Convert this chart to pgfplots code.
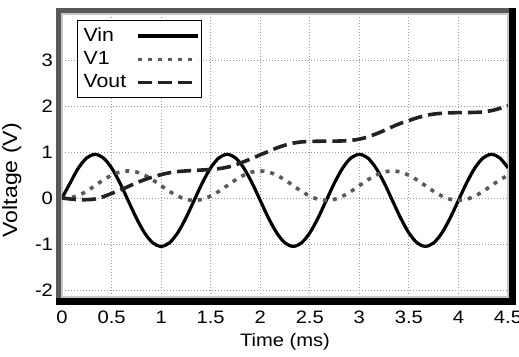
\documentclass[border=0pt]{standalone}
\usepackage{fontspec}
\setmainfont{Liberation Sans}[FakeStretch=1.12]
\usepackage{pgfplots}
\usepackage{pgfplotstable}
\pgfplotsset{compat=1.18}
\definecolor{vonecol}{HTML}{5A5A5A}
\definecolor{voutcol}{HTML}{222222}
\pgfplotstableread{
t vin v1 vout
0.0000 0.000 0.000 0.000
0.0833 0.333 0.010 -0.020
0.1667 0.657 0.060 -0.035
0.2500 0.874 0.150 -0.035
0.3333 0.950 0.270 -0.020
0.4167 0.874 0.393 0.030
0.5000 0.657 0.496 0.100
0.5833 0.333 0.566 0.170
0.6667 -0.050 0.590 0.250
0.7500 -0.433 0.566 0.330
0.8333 -0.757 0.496 0.400
0.9167 -0.974 0.393 0.460
1.0000 -1.050 0.270 0.510
1.0833 -0.974 0.147 0.550
1.1667 -0.757 0.044 0.575
1.2500 -0.433 -0.026 0.590
1.3333 -0.050 -0.050 0.600
1.4167 0.333 -0.026 0.610
1.5000 0.657 0.044 0.620
1.5833 0.874 0.147 0.640
1.6667 0.950 0.270 0.670
1.7500 0.874 0.393 0.720
1.8333 0.657 0.496 0.790
1.9167 0.333 0.566 0.860
2.0000 -0.050 0.590 0.940
2.0833 -0.433 0.566 1.013
2.1667 -0.757 0.496 1.089
2.2500 -0.974 0.393 1.150
2.3333 -1.050 0.270 1.195
2.4167 -0.974 0.147 1.220
2.5000 -0.757 0.044 1.230
2.5833 -0.433 -0.026 1.235
2.6667 -0.050 -0.050 1.237
2.7500 0.333 -0.026 1.238
2.8333 0.657 0.044 1.242
2.9167 0.874 0.147 1.255
3.0000 0.950 0.270 1.280
3.0833 0.874 0.393 1.328
3.1667 0.657 0.496 1.392
3.2500 0.333 0.566 1.467
3.3333 -0.050 0.590 1.550
3.4167 -0.433 0.566 1.625
3.5000 -0.757 0.496 1.685
3.5833 -0.974 0.393 1.745
3.6667 -1.050 0.270 1.795
3.7500 -0.974 0.147 1.825
3.8333 -0.757 0.044 1.843
3.9167 -0.433 -0.026 1.852
4.0000 -0.050 -0.050 1.857
4.0833 0.333 -0.026 1.858
4.1667 0.657 0.044 1.862
4.2500 0.874 0.147 1.872
4.3333 0.950 0.270 1.900
4.4167 0.874 0.393 1.948
4.5000 0.657 0.496 2.010
}\datatab
\begin{document}
\begin{tikzpicture}
\begin{axis}[
  name=ax,
  scale only axis,
  width=223pt, height=141.5pt,
  xmin=0, xmax=4.5, ymin=-2.15, ymax=4,
  xtick={0,0.5,...,4.5},
  ytick={-2,-1,0,1,2,3},
  major tick length=0pt,
  grid=major,
  grid style={gray!80, line width=0.5pt, dash pattern=on 0.5pt off 1pt},
  axis line style={gray!45, line width=0.8pt},
  font=\fontsize{9}{10.5}\selectfont,
  /pgf/number format/assume math mode=true,
  xticklabel style={yshift=-3.5pt},
  yticklabel style={xshift=-1pt},
  xlabel={Time (ms)},
  ylabel={Voltage (V)},
  xlabel style={yshift=2pt},
  ylabel style={at={(axis description cs:-0.075,0.413)}, anchor=south, font=\fontsize{10.3}{12}\selectfont},
  legend plot pos=right,
  legend cell align=left,
  legend image code/.code={\draw[#1] (0pt,0pt) -- (30pt,0pt);},
  legend style={at={(axis description cs:0,1)}, anchor=north west,
    xshift=7.5pt, yshift=-3pt, draw=black, line width=0.6pt, fill=white,
    font=\fontsize{9.5}{10.5}\selectfont, inner xsep=1pt, inner ysep=1.5pt,
    row sep=-0.5pt, column sep=3pt},
]
\addplot[black, line width=1.6pt, smooth] table[x=t, y=vin] {\datatab};
\addlegendentry{Vin}
\addplot[vonecol, line width=1.8pt, smooth, dash pattern=on 2pt off 3pt] table[x=t, y=v1] {\datatab};
\addlegendentry{V1}
\addplot[voutcol, line width=1.8pt, smooth, dash pattern=on 7pt off 3pt] table[x=t, y=vout] {\datatab};
\addlegendentry{Vout\hspace{1pt}}
\end{axis}
\draw[line width=2.5pt, black!65] ([xshift=-1.65pt,yshift=-3pt]ax.south west) -- ([xshift=-1.65pt,yshift=1.65pt]ax.north west) -- ([xshift=3.5pt,yshift=1.65pt]ax.north east);
\draw[line width=3.4pt, black] ([xshift=-2.9pt,yshift=-2.1pt]ax.south west) -- ([xshift=2.1pt,yshift=-2.1pt]ax.south east) -- ([xshift=2.1pt,yshift=2.9pt]ax.north east);
\pgfresetboundingbox
\path ([shift={(-31pt,-29.5pt)}]ax.south west) rectangle ([shift={(5.5pt,7pt)}]ax.north east);
\end{tikzpicture}
\end{document}
